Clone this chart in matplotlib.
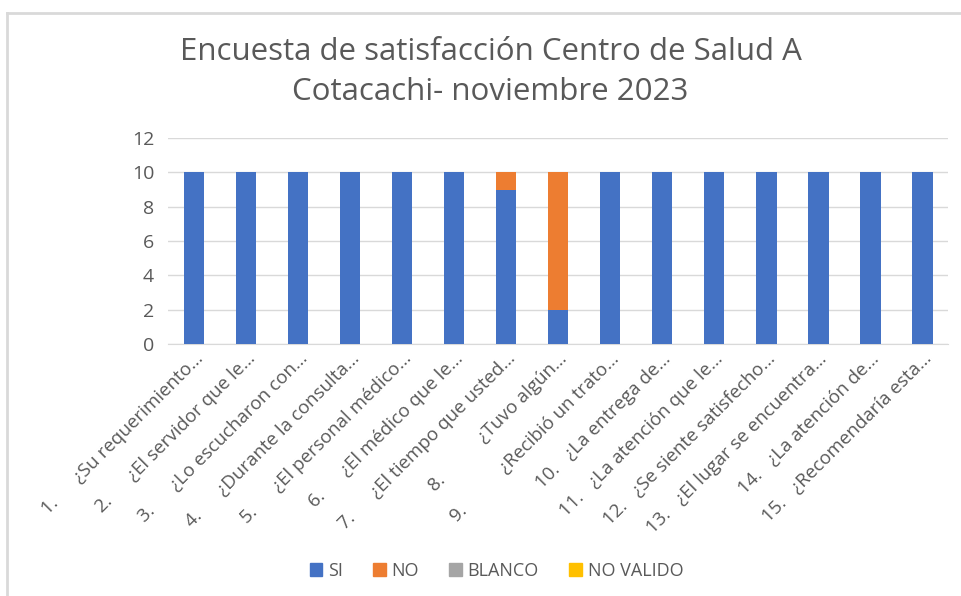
import matplotlib.pyplot as plt
import numpy as np
from matplotlib.lines import Line2D

plt.rcParams['font.family'] = ['Open Sans', 'DejaVu Sans']

numbers = ['1.', '2.', '3.', '4.', '5.', '6.', '7.', '8.', '9.', '10.',
           '11.', '12.', '13.', '14.', '15.']
questions = ['¿Su requerimiento…', '¿El servidor que le…', '¿Lo escucharon con…',
             '¿Durante la consulta…', '¿El personal médico…', '¿El médico que le…',
             '¿El tiempo que usted…', '¿Tuvo algún…', '¿Recibió un trato…',
             '¿La entrega de…', '¿La atención que le…', '¿Se siente satisfecho…',
             '¿El lugar se encuentra…', '¿La atención de…', '¿Recomendaría esta…']
gaps = [6, 6, 6, 6, 6, 6, 6, 11, 11, 3, 3, 3, 3, 3, 3]
si = [10, 10, 10, 10, 10, 10, 9, 2, 10, 10, 10, 10, 10, 10, 10]
no = [0, 0, 0, 0, 0, 0, 1, 8, 0, 0, 0, 0, 0, 0, 0]
blanco = [0] * 15
no_valido = [0] * 15

labels = [n + ' ' * g + q for n, g, q in zip(numbers, gaps, questions)]

txt = '#595959'
fig = plt.figure(figsize=(9.62, 5.96), dpi=100)
ax = fig.add_axes([0.1746, 0.4228, 0.811, 0.3456])

x = np.arange(len(si))
w = 0.4
bottom = np.zeros(len(si))
series = [(si, '#4472C4', 'SI'), (no, '#ED7D31', 'NO'),
          (blanco, '#A5A5A5', 'BLANCO'), (no_valido, '#FFC000', 'NO VALIDO')]
for vals, col, name in series:
    ax.bar(x, vals, w, bottom=bottom, color=col, label=name, zorder=3)
    bottom += np.array(vals)

ax.set_xlim(-0.5, len(si) - 0.5)
ax.set_ylim(0, 12)
ax.set_yticks(range(0, 13, 2))
ax.grid(axis='y', color='#D9D9D9', linewidth=1, zorder=0)
for s in ['top', 'right', 'left']:
    ax.spines[s].set_visible(False)
ax.spines['bottom'].set_color('#D9D9D9')
ax.tick_params(axis='both', length=0, colors=txt)
ax.tick_params(axis='y', pad=10, labelsize=14)
ax.tick_params(axis='x', labelsize=13.5, pad=4)
ax.set_xticks(x)
ax.set_xticklabels(labels, rotation=45, ha='right', rotation_mode='anchor')

fig.text(0.51, 0.913, 'Encuesta de satisfacción Centro de Salud A', ha='center',
         va='center', fontsize=22.5, color=txt)
fig.text(0.51, 0.846, 'Cotacachi- noviembre 2023', ha='center',
         va='center', fontsize=22.5, color=txt)

handles = [plt.Rectangle((0, 0), 1, 1, color=c) for _, c, _ in series]
fig.legend(handles, [n for _, _, n in series], loc='center', ncol=4,
           bbox_to_anchor=(0.516, 0.042), frameon=False, fontsize=13,
           labelcolor=txt, handlelength=0.7, handleheight=0.7,
           handletextpad=0.3, columnspacing=1.7)

# chart border
fig.add_artist(Line2D([0.0073, 1], [0.978, 0.978], color='#D9D9D9', lw=2))
fig.add_artist(Line2D([0.0073, 0.0073], [0, 0.978], color='#D9D9D9', lw=2))

plt.savefig('out.png', dpi=100)
